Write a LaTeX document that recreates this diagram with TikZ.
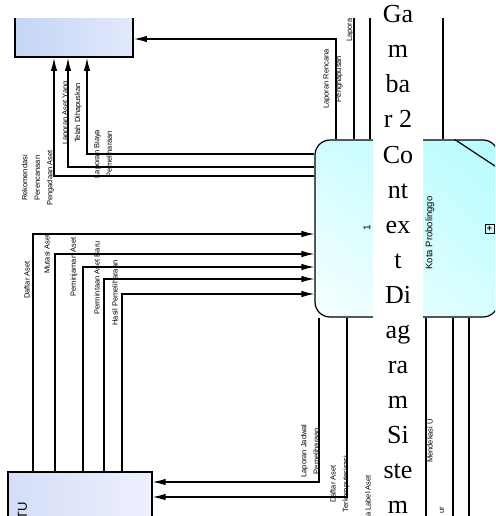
\documentclass[tikz,border=0pt]{standalone}
\usepackage{fontspec}
\setmainfont{Liberation Serif}
\newfontfamily\labfont{Liberation Sans}
\usepackage{xcolor}
\definecolor{entL}{RGB}{196,213,245}
\definecolor{entR}{RGB}{226,233,251}
\definecolor{tuL}{RGB}{212,222,248}
\definecolor{tuR}{RGB}{238,240,253}
\definecolor{cyUR}{RGB}{182,252,255}
\definecolor{cyUL}{RGB}{208,253,255}
\definecolor{cyLR}{RGB}{214,254,255}
\definecolor{cyLL}{RGB}{248,255,255}
\usetikzlibrary{arrows.meta, shadings}

\begin{document}
\begin{tikzpicture}[
  x=1pt, y=-1pt,
  font=\labfont\fontsize{7.5}{12.5}\selectfont,
  entity/.style={draw, line width=1.8pt, left color=entL, right color=entR, inner sep=0pt},
  tubox/.style={draw, line width=1.2pt, left color=tuL, right color=tuR, inner sep=0pt},
  procbox/.style={draw, line width=1.2pt, rounded corners=15pt, shade,
                  upper left=cyUL, upper right=cyUR, lower left=cyLL, lower right=cyLR, inner sep=0pt},
  flow/.style={line width=1.2pt, -{Latex[length=13pt,width=6.5pt]}},
  wire/.style={line width=1.2pt},
  lab/.style={rotate=90, align=center, inner sep=0pt},
  word/.style={font=\fontsize{26}{35}\selectfont, anchor=base, inner sep=0pt}
]
\useasboundingbox (0,0) rectangle (495,516);

\begin{scope}
\clip (0,19) rectangle (495,516);

\node[entity, minimum width=118, minimum height=47] (kabag) at (74,33.5) {};
\node[tubox, minimum width=144, minimum height=70] (tu) at (80,507) {};
\node[lab, anchor=base east, font=\labfont\fontsize{13}{13}\selectfont] (tuname) at (27,502) {TU};
\node[procbox, minimum width=183, minimum height=177] (proc) at (406.5,228.5) {};
\draw[wire] ([xshift=-44pt]proc.north east) -- ([yshift=-29pt]proc.north east);
\node[draw, line width=0.9pt, minimum size=9pt, inner sep=0pt,
      font=\labfont\bfseries\fontsize{9}{9}\selectfont] (expand) at ([xshift=-9pt]proc.east) {+};
\node[lab, font=\labfont\fontsize{10}{10}\selectfont] (pnum) at (367,228) {1};
\node[lab, font=\labfont\fontsize{9.5}{11}\selectfont] (pname) at (430,233) {Kota Probolinggo};

\coordinate (r1) at (336,39);
\coordinate (r2) at (87,154);
\coordinate (r3) at (68,167);
\coordinate (r4) at (54,176);
\draw[flow] (r1 |- proc.north) -- (r1) -- (r1 -| kabag.east);
\draw[flow] (r2 -| proc.west) -- (r2) -- (r2 |- kabag.south);
\draw[flow] (r3 -| proc.west) -- (r3) -- (r3 |- kabag.south);
\draw[flow] (r4 -| proc.west) -- (r4) -- (r4 |- kabag.south);

\coordinate (i1) at (33,234);
\coordinate (i2) at (55,254);
\coordinate (i3) at (83,267);
\coordinate (i4) at (104,279);
\coordinate (i5) at (122,294);
\foreach \c in {i1,i2,i3,i4,i5}
  \draw[flow] (\c |- tu.north) -- (\c) -- (\c -| proc.west);

\coordinate (o1) at (319,482);
\coordinate (o2) at (347,497);
\draw[flow] (o1 |- proc.south) -- (o1) -- (o1 -| tu.east);
\draw[flow] (o2 |- proc.south) -- (o2) -- (o2 -| tu.east);

\coordinate (t0) at (354,0);
\draw[wire, line width=2pt] (t0 |- proc.north) -- (t0);
\foreach \xx [count=\k] in {370,443} {
  \coordinate (t\k) at (\xx,0);
  \draw[wire] (t\k |- proc.north) -- (t\k);
}
\foreach \xx [count=\k] in {426,453,469} {
  \coordinate (b\k) at (\xx,530);
  \draw[wire] (b\k |- proc.south) -- (b\k);
}

\node[lab] (l1) at (333,79) {Laporan Rencana\\Penghapusan};
\node[lab, anchor=west] (l2) at (350,42) {Laporan};
\node[lab] (l3) at (72,113) {Laporan Aset Yang\\Telah Dihapuskan};
\node[lab] (l4) at (103,154) {Laporan Biaya\\Pemeliharaan};
\node[lab] (l5) at (38,178) {Rekomendasi\\Perencanaan\\Pengadaan Aset};
\node[lab] (l6) at (27,280) {Daftar Aset};
\node[lab] (l7) at (47,254) {Mutasi Aset};
\node[lab] (l8) at (74,267) {Peminjaman Aset};
\node[lab] (l9) at (97,278) {Permintaan Aset Baru};
\node[lab] (l10) at (115,293) {Hasil Pemeliharaan};
\node[lab] (l11) at (310,451) {Laporan Jadwal\\Pemeliharaan};
\node[lab] (l12) at (340,484) {Daftar Aset\\Terkomputerisasi};
\node[lab, anchor=east] (l13) at (368,475) {Data Label Aset};
\node[lab] (l14) at (430,441) {Mendekasi U};
\node[lab, anchor=east] (l15) at (442,507) {ur};
\end{scope}

\node[fill=white, minimum width=50, minimum height=516, inner sep=0pt, anchor=north] (band) at (398,0) {};
\foreach \w [count=\i] in {Ga,m,ba,r 2,Co,nt,ex,t,Di,ag,ra,m,Si,ste,m}
  \node[word] (w\i) at (398,{23+35*(\i-1)}) {\w};
\end{tikzpicture}
\end{document}
